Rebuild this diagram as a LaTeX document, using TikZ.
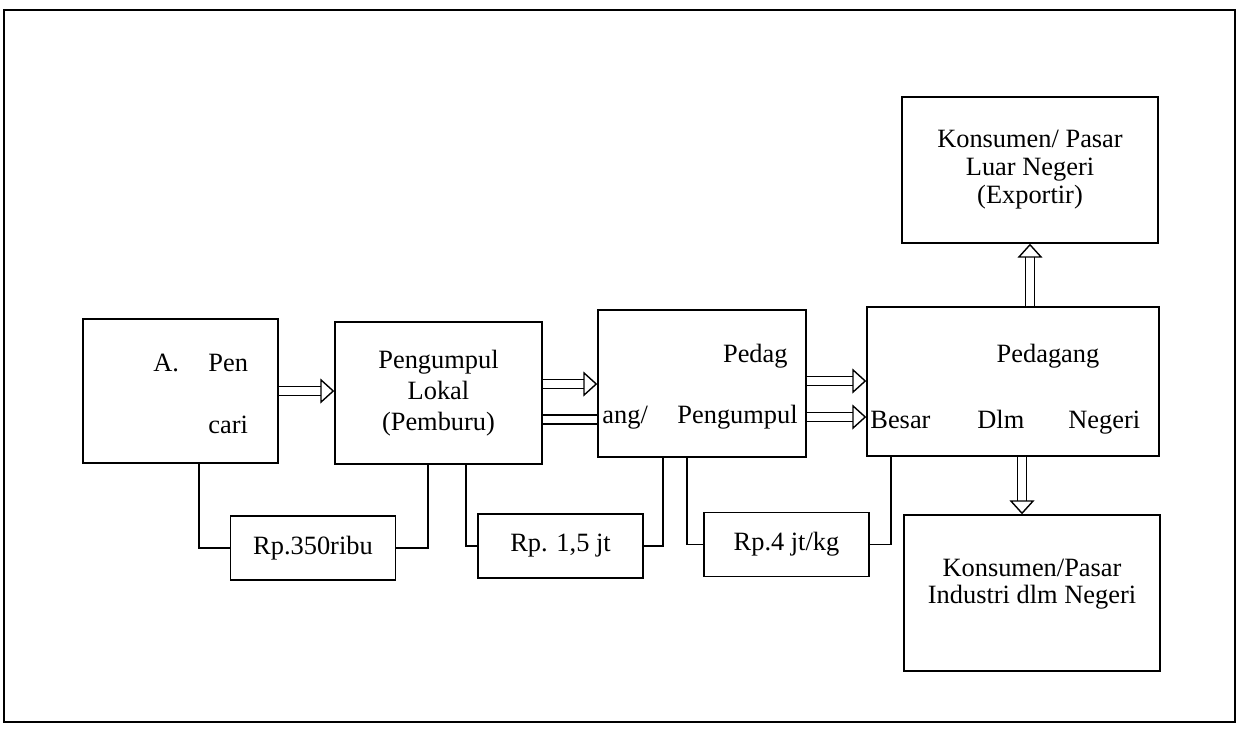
\documentclass[tikz,border=0pt]{standalone}
\usepackage{fontspec}
\setmainfont{Liberation Serif}
\usepackage{tikz}
\usetikzlibrary{positioning,calc,arrows.meta}

\begin{document}
\begin{tikzpicture}[
  x=0.5pt, y=-0.5pt,
  font=\fontsize{13.2}{15.5}\selectfont,
  box/.style={draw, line width=0.7pt, inner sep=0pt, align=center},
  price/.style={box, minimum width=82.5pt, minimum height=32pt},
  txt/.style={inner sep=0pt, anchor=base west},
  link/.style={line width=0.7pt},
  twin/.style={double, double distance=3.8pt, line width=0.7pt},
  flow/.style={twin, -{Triangle[open, length=7pt, width=12.5pt, line width=0.7pt]}},
]
\useasboundingbox (0,0) rectangle (1239,730);
\draw[line width=0.8pt] (4,10) rectangle (1235,722);

% rantai pelaku
\node[box, minimum width=97.5pt, minimum height=72pt] (pencari) at (180.5,391) {};
\node[box, minimum width=103.5pt, minimum height=71pt] (lokal) at (438.5,393) {Pengumpul\\Lokal\\(Pemburu)};
\node[box, minimum width=104pt, minimum height=73.5pt] (pedpul) at (702,383.5) {};
\node[box, minimum width=146pt, minimum height=74.5pt] (besar) at (1013,381.5) {};
\node[box, minimum width=128pt, minimum height=73pt, font=\fontsize{13.2}{14}\selectfont] (ekspor) at (1030,170) {Konsumen/ Pasar\\Luar Negeri\\(Exportir)};
\node[box, minimum width=128pt, minimum height=78pt] (industri) at (1032,593) {};

% teks yang tercecer di dalam kotak
\node[txt] (tA) at (153,371) {A.};
\node[txt] (tPen) at (208,371) {Pen};
\node[txt] (tCari) at (208,433) {cari};
\node[txt, anchor=base east] (tPedag) at (788,362) {Pedag};
\node[txt] (tAng) at (602,423) {ang/};
\node[txt] (tPengumpul) at (677,423) {Pengumpul};
\node[txt, anchor=base] (tPedagang) at (1048,362) {Pedagang};
\node[txt] (tBesar) at (870,428) {Besar};
\node[txt] (tDlm) at (977,428) {Dlm};
\node[txt] (tNegeri) at (1068,428) {Negeri};
\node[inner sep=0pt, align=center, font=\fontsize{13.2}{13.5}\selectfont] (tIndustri) at (1032,584) {Konsumen/Pasar\\Industri dlm Negeri};

% harga
\node[price] (harga1) at (313,548) {Rp.350ribu};
\node[price] (harga2) at (560.5,546) {Rp. 1,5 jt};
\node[price] (harga3) at (786.5,544.5) {Rp.4 jt/kg};

\draw[link] ($(pencari.south)+(18.5,0)$) |- (harga1.west);
\draw[link] (harga1.east) -| ($(lokal.south)+(-10.5,0)$);
\draw[link] ($(lokal.south)+(27.5,0)$) |- (harga2.west);
\draw[link] (harga2.east) -| ($(pedpul.south)+(-39,0)$);
\draw[link] ($(pedpul.south)+(-15,0)$) |- (harga3.west);
\draw[link] (harga3.east) -| ($(besar.south)+(-122,0)$);

% aliran barang
\coordinate (l1) at ($(lokal.east)+(0,-9)$);
\coordinate (l2) at ($(lokal.east)+(0,26.5)$);
\coordinate (p1) at ($(pedpul.east)+(0,-2.5)$);
\coordinate (p2) at ($(pedpul.east)+(0,33.5)$);
\coordinate (b1) at ($(besar.south)+(9,0)$);
\draw[flow] (pencari.east) -- (pencari.east -| lokal.west);
\draw[flow] (l1) -- (l1 -| pedpul.west);
\draw[twin] (l2) -- (l2 -| pedpul.west);
\draw[flow] (p1) -- (p1 -| besar.west);
\draw[flow] (p2) -- (p2 -| besar.west);
\draw[flow] (ekspor.south |- besar.north) -- (ekspor.south);
\draw[flow] (b1) -- (b1 |- industri.north);
\end{tikzpicture}
\end{document}
